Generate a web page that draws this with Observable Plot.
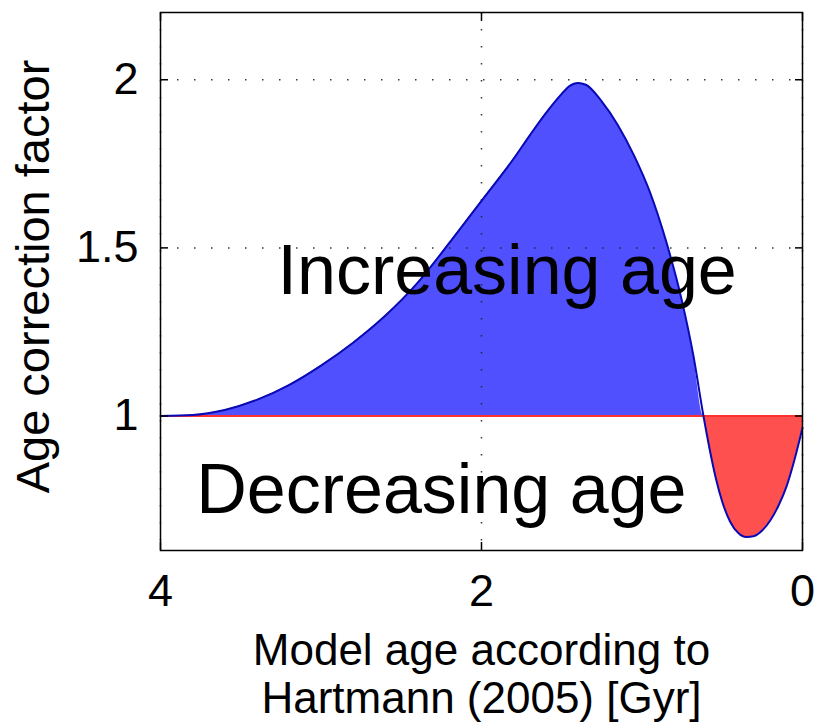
<!DOCTYPE html>
<html><head><meta charset="utf-8">
<script src="https://cdn.jsdelivr.net/npm/d3@7"></script>
<script src="https://cdn.jsdelivr.net/npm/@observablehq/plot@0.6"></script>
<style>body{margin:0;background:#fff} #chart svg{display:block}</style>
</head><body><div id="chart"></div>
<script>
// Model age (Gyr) and the age correction factor
const ages    = [4.0, 3.8, 3.6, 3.4, 3.2, 3.0, 2.8, 2.6, 2.4, 2.2, 2.0, 1.8, 1.7, 1.6, 1.5, 1.45, 1.4, 1.35, 1.25, 1.15, 1.05, 0.95, 0.85, 0.75, 0.68, 0.617, 0.58, 0.54, 0.5, 0.45, 0.4, 0.35, 0.3, 0.25, 0.2, 0.15, 0.1, 0.05, 0.0];
const factors = [1.0, 1.003, 1.018, 1.048, 1.092, 1.15, 1.218, 1.298, 1.395, 1.515, 1.64, 1.765, 1.834, 1.9, 1.958, 1.982, 1.99, 1.985, 1.935, 1.865, 1.775, 1.665, 1.52, 1.34, 1.18, 1.0, 0.905, 0.815, 0.745, 0.685, 0.652, 0.64, 0.643, 0.66, 0.69, 0.733, 0.79, 0.87, 0.965];
const xTicks = [4, 2, 0];
const yTicks = [1, 1.5, 2];
const baseline = 1;
const xLabel = "Model age according to\nHartmann (2005) [Gyr]";
const yLabel = "Age correction factor";
const upLabel = "Increasing age";
const downLabel = "Decreasing age";

const data = ages.map((a, i) => ({age: a, f: factors[i]}));
const font = "'Liberation Sans', Arial, Helvetica, sans-serif";
const empty = () => "";
const fmt = d => String(d);

const chart = Plot.plot({
  width: 815, height: 724,
  marginLeft: 160, marginRight: 13, marginTop: 12, marginBottom: 174,
  x: {domain: [4, 0]},
  y: {domain: [0.6, 2.2]},
  style: {fontFamily: font, fontSize: "44px", color: "#000", background: "#fff", overflow: "visible"},
  marks: [
    Plot.areaY(data, {x: "age", y1: baseline, y2: d => Math.max(d.f, baseline), fill: "#5050ff", curve: "monotone-x"}),
    Plot.areaY(data, {x: "age", y1: baseline, y2: d => Math.min(d.f, baseline), fill: "#ff5050", curve: "monotone-x"}),
    Plot.gridX(xTicks, {stroke: "#222", strokeOpacity: 0.9, strokeWidth: 1.5, strokeDasharray: "1.5,15.5"}),
    Plot.gridY(yTicks, {stroke: "#222", strokeOpacity: 0.9, strokeWidth: 1.5, strokeDasharray: "1.5,15.5"}),
    Plot.ruleY([baseline], {stroke: "#ff3030", strokeWidth: 2}),
    Plot.line(data, {x: "age", y: "f", stroke: "#0a0ab4", strokeWidth: 2, curve: "monotone-x"}),
    Plot.text([upLabel], {x: 1.84, y: 1.43, text: d => d, fontSize: 70, fill: "#000"}),
    Plot.text([downLabel], {x: 2.25, y: 0.777, text: d => d, fontSize: 70, fill: "#000"}),
    Plot.frame({stroke: "#000", strokeWidth: 1.5}),
    Plot.axisX(xTicks, {anchor: "bottom", tickSize: 0, tickPadding: 24, fontSize: 45, tickFormat: fmt, label: null}),
    Plot.axisY(yTicks, {anchor: "left", tickSize: 0, tickPadding: 22, fontSize: 45, tickFormat: fmt, label: null}),
    Plot.axisX(xTicks, {anchor: "bottom", tickSize: -8, tickFormat: empty, label: null, strokeWidth: 1.5}),
    Plot.axisX(xTicks, {anchor: "top", tickSize: -8, tickFormat: empty, label: null, strokeWidth: 1.5}),
    Plot.axisY(yTicks, {anchor: "left", tickSize: -8, tickFormat: empty, label: null, strokeWidth: 1.5}),
    Plot.axisY(yTicks, {anchor: "right", tickSize: -8, tickFormat: empty, label: null, strokeWidth: 1.5}),
    Plot.text([xLabel], {frameAnchor: "bottom", dy: 80, lineAnchor: "top", lineHeight: 1.1, text: d => d, fontSize: 44, fill: "#000"}),
    Plot.text([yLabel], {frameAnchor: "left", textAnchor: "middle", rotate: -90, dx: -127, dy: -5, text: d => d, fontSize: 47, fill: "#000"})
  ]
});
document.getElementById("chart").append(chart);
</script>
</body></html>
